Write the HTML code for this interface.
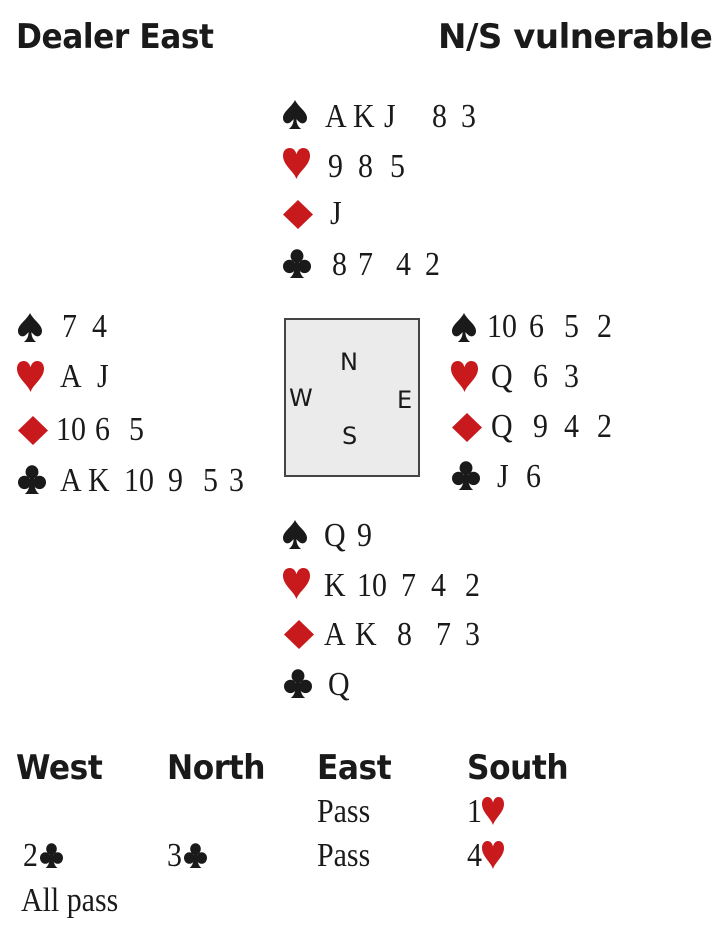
<!DOCTYPE html>
<html><head><meta charset="utf-8"><style>
body{margin:0;width:722px;height:944px;background:#fff;position:relative;overflow:hidden;color:#1a1a1a}
.h{position:absolute;font-family:"DejaVu Sans","Liberation Sans",sans-serif;font-weight:bold;font-size:34px;letter-spacing:-0.5px;line-height:40px;transform-origin:left;white-space:pre}
.t{position:absolute;font-family:"Liberation Serif",serif;font-size:34px;line-height:40px;transform:scaleX(.88);transform-origin:left;white-space:pre}
svg{position:absolute}
.box{position:absolute;left:284px;top:318px;width:132px;height:155px;background:#ebebeb;border:2px solid #444}
.c{position:absolute;font-family:"DejaVu Sans",sans-serif;font-size:24px;line-height:24px}
</style></head><body>
<svg width="0" height="0" style="position:absolute">
<defs>
<symbol id="sp" viewBox="0 0 100 100" preserveAspectRatio="none"><path fill="#1a1a1a" d="M50 0 C35 25 0 40 0 62 C0 78 18 86 32 76 C38 72 42 68 44 66 C44 80 38 92 24 100 L76 100 C62 92 56 80 56 66 C58 68 62 72 68 76 C82 86 100 78 100 62 C100 40 65 25 50 0Z"/></symbol>
<symbol id="he" viewBox="0 0 100 100" preserveAspectRatio="none"><path fill="#c8191c" d="M50 100 C40 75 0 55 0 25 C0 8 12 0 25 0 C38 0 46 8 50 20 C54 8 62 0 75 0 C88 0 100 8 100 25 C100 55 60 75 50 100Z"/></symbol>
<symbol id="di" viewBox="0 0 100 100" preserveAspectRatio="none"><path fill="#c8191c" d="M50 0 L100 50 L50 100 L0 50Z"/></symbol>
<symbol id="cl" viewBox="0 0 100 100" preserveAspectRatio="none"><g fill="#1a1a1a"><circle cx="50" cy="24" r="23"/><circle cx="23" cy="60" r="23"/><circle cx="77" cy="60" r="23"/><path d="M43 40 L57 40 C57 75 62 90 76 100 L24 100 C38 90 43 75 43 40Z"/></g></symbol>
</defs></svg>

<div class="h" style="left:16px;top:17px;transform:scaleX(.92)">Dealer East</div>
<div class="h" style="left:438px;top:17px">N/S vulnerable</div>

<div class="box"></div>
<div class="c" style="left:340px;top:350px">N</div>
<div class="c" style="left:289px;top:386px">W</div>
<div class="c" style="left:397px;top:388px">E</div>
<div class="c" style="left:342px;top:424px">S</div>

<!-- North -->
<svg style="left:283px;top:100px" width="24" height="29"><use href="#sp"/></svg>
<div class="t" style="left:325px;top:97px">A</div><div class="t" style="left:353px;top:97px">K</div><div class="t" style="left:384px;top:97px">J</div><div class="t" style="left:432px;top:97px">8</div><div class="t" style="left:461px;top:97px">3</div>
<svg style="left:283px;top:148px" width="27" height="31"><use href="#he"/></svg>
<div class="t" style="left:328px;top:147px">9</div><div class="t" style="left:358px;top:147px">8</div><div class="t" style="left:390px;top:147px">5</div>
<svg style="left:283px;top:200px" width="30" height="29"><use href="#di"/></svg>
<div class="t" style="left:330px;top:194px">J</div>
<svg style="left:283px;top:249px" width="28" height="29"><use href="#cl"/></svg>
<div class="t" style="left:332px;top:245px">8</div><div class="t" style="left:358px;top:245px">7</div><div class="t" style="left:396px;top:245px">4</div><div class="t" style="left:425px;top:245px">2</div>

<!-- West -->
<svg style="left:18px;top:313px" width="24" height="29"><use href="#sp"/></svg>
<div class="t" style="left:62px;top:307px">7</div><div class="t" style="left:92px;top:307px">4</div>
<svg style="left:17px;top:361px" width="27" height="31"><use href="#he"/></svg>
<div class="t" style="left:60px;top:357px">A</div><div class="t" style="left:97px;top:357px">J</div>
<svg style="left:18px;top:416px" width="30" height="29"><use href="#di"/></svg>
<div class="t" style="left:56px;top:410px">10</div><div class="t" style="left:95px;top:410px">6</div><div class="t" style="left:129px;top:410px">5</div>
<svg style="left:18px;top:465px" width="28" height="29"><use href="#cl"/></svg>
<div class="t" style="left:60px;top:461px">A</div><div class="t" style="left:88px;top:461px">K</div><div class="t" style="left:124px;top:461px">10</div><div class="t" style="left:168px;top:461px">9</div><div class="t" style="left:203px;top:461px">5</div><div class="t" style="left:229px;top:461px">3</div>

<!-- East -->
<svg style="left:452px;top:313px" width="24" height="29"><use href="#sp"/></svg>
<div class="t" style="left:487px;top:307px">10</div><div class="t" style="left:529px;top:307px">6</div><div class="t" style="left:564px;top:307px">5</div><div class="t" style="left:597px;top:307px">2</div>
<svg style="left:451px;top:361px" width="27" height="31"><use href="#he"/></svg>
<div class="t" style="left:491px;top:357px">Q</div><div class="t" style="left:533px;top:357px">6</div><div class="t" style="left:564px;top:357px">3</div>
<svg style="left:452px;top:413px" width="30" height="29"><use href="#di"/></svg>
<div class="t" style="left:491px;top:407px">Q</div><div class="t" style="left:533px;top:407px">9</div><div class="t" style="left:564px;top:407px">4</div><div class="t" style="left:597px;top:407px">2</div>
<svg style="left:452px;top:461px" width="28" height="29"><use href="#cl"/></svg>
<div class="t" style="left:497px;top:457px">J</div><div class="t" style="left:526px;top:457px">6</div>

<!-- South -->
<svg style="left:283px;top:520px" width="24" height="29"><use href="#sp"/></svg>
<div class="t" style="left:324px;top:516px">Q</div><div class="t" style="left:357px;top:516px">9</div>
<svg style="left:283px;top:568px" width="27" height="31"><use href="#he"/></svg>
<div class="t" style="left:324px;top:566px">K</div><div class="t" style="left:357px;top:566px">10</div><div class="t" style="left:401px;top:566px">7</div><div class="t" style="left:431px;top:566px">4</div><div class="t" style="left:465px;top:566px">2</div>
<svg style="left:284px;top:620px" width="30" height="29"><use href="#di"/></svg>
<div class="t" style="left:324px;top:615px">A</div><div class="t" style="left:355px;top:615px">K</div><div class="t" style="left:397px;top:615px">8</div><div class="t" style="left:436px;top:615px">7</div><div class="t" style="left:465px;top:615px">3</div>
<svg style="left:284px;top:669px" width="28" height="29"><use href="#cl"/></svg>
<div class="t" style="left:328px;top:665px">Q</div>

<!-- Auction -->
<div class="h" style="left:16px;top:748px;transform:scaleX(.92)">West</div>
<div class="h" style="left:167px;top:748px;transform:scaleX(.92)">North</div>
<div class="h" style="left:317px;top:748px;transform:scaleX(.92)">East</div>
<div class="h" style="left:467px;top:748px;transform:scaleX(.92)">South</div>

<div class="t" style="left:317px;top:792px">Pass</div>
<div class="t" style="left:467px;top:792px">1</div><svg style="left:482px;top:797px" width="22" height="28"><use href="#he"/></svg>
<div class="t" style="left:23px;top:836px">2</div><svg style="left:40px;top:843px" width="23" height="25"><use href="#cl"/></svg>
<div class="t" style="left:167px;top:836px">3</div><svg style="left:184px;top:843px" width="23" height="25"><use href="#cl"/></svg>
<div class="t" style="left:317px;top:836px">Pass</div>
<div class="t" style="left:467px;top:836px">4</div><svg style="left:482px;top:841px" width="22" height="28"><use href="#he"/></svg>
<div class="t" style="left:21px;top:881px">All pass</div>
</body></html>
